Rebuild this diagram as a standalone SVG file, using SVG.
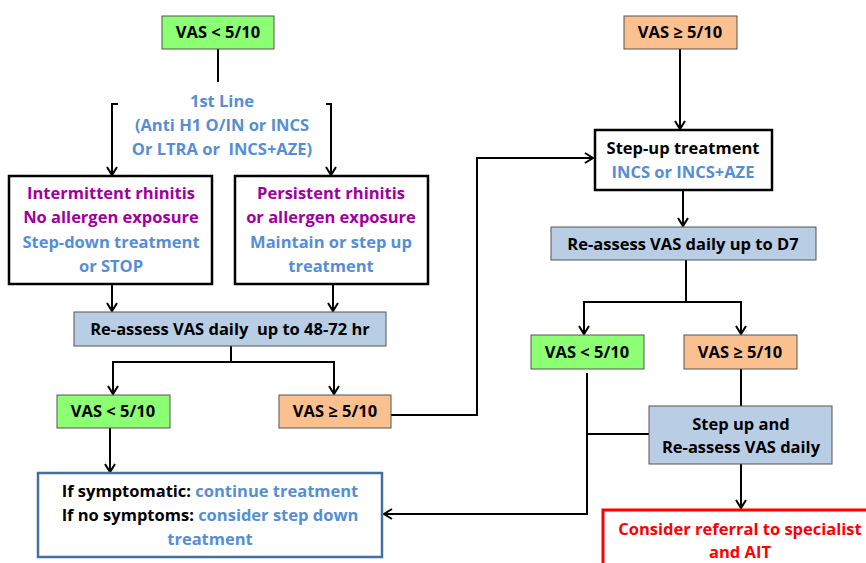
<svg xmlns="http://www.w3.org/2000/svg" width="866" height="563" viewBox="0 0 866 563">
<defs>
<marker id="arr" viewBox="0 0 12 12" refX="10" refY="6" markerWidth="12" markerHeight="12" markerUnits="userSpaceOnUse" orient="auto">
<path d="M2,1 L10,6 L2,11" fill="none" stroke="#000" stroke-width="2"/>
</marker>
<style>
text{font-family:"Open Sans","Liberation Sans",sans-serif;font-weight:bold;font-size:16.5px;text-anchor:middle;white-space:pre}
.k{fill:#000}.b{fill:#558ED5}.p{fill:#A000A0}.r{fill:#FF0000}
.green{fill:#8CFF72;stroke:#555;stroke-width:1}
.orange{fill:#FAC090;stroke:#555;stroke-width:1}
.gray{fill:#B9CDE5;stroke:#555;stroke-width:1}
.white{fill:#fff;stroke:#000;stroke-width:2.5}
.c{fill:none;stroke:#000;stroke-width:2}
</style>
</defs>
<rect width="866" height="563" fill="#fff"/>
<g id="connectors">
<path class="c" d="M218,49 V82"/>
<path class="c" d="M118,104 H112 V175" marker-end="url(#arr)"/>
<path class="c" d="M326,104 H331 V175" marker-end="url(#arr)"/>
<path class="c" d="M112,284 V311" marker-end="url(#arr)"/>
<path class="c" d="M333,284 V311" marker-end="url(#arr)"/>
<path class="c" d="M231,346 V362"/>
<path class="c" d="M231,362 H113 V394" marker-end="url(#arr)"/>
<path class="c" d="M231,362 H334 V394" marker-end="url(#arr)"/>
<path class="c" d="M110,428 V472" marker-end="url(#arr)"/>
<path class="c" d="M391,415 H477 V158 H593" marker-end="url(#arr)"/>
<path class="c" d="M680,49 V129" marker-end="url(#arr)"/>
<path class="c" d="M683,190 V226" marker-end="url(#arr)"/>
<path class="c" d="M686,260 V302"/>
<path class="c" d="M686,302 H584 V334" marker-end="url(#arr)"/>
<path class="c" d="M686,302 H741 V334" marker-end="url(#arr)"/>
<path class="c" d="M741,369 V406"/>
<path class="c" d="M587,373 V514 H384" marker-end="url(#arr)"/>
<path class="c" d="M587,434 H649"/>
<path class="c" d="M741,464 V508" marker-end="url(#arr)"/>
</g>
<g id="vas-low-top">
<rect class="green" x="162" y="16" width="112" height="33"/>
<text class="k" x="218" y="38">VAS &lt; 5/10</text>
</g>
<g id="first-line">
<text class="b" x="222" y="107">1st Line</text>
<text class="b" x="222" y="131">(Anti H1 O/IN or INCS</text>
<text class="b" x="222" y="155">Or LTRA or  INCS+AZE)</text>
</g>
<g id="intermittent">
<rect class="white" x="9" y="176" width="203" height="108"/>
<text class="p" x="111" y="199">Intermittent rhinitis</text>
<text class="p" x="111" y="223">No allergen exposure</text>
<text class="b" x="111" y="248">Step-down treatment</text>
<text class="b" x="111" y="272">or STOP</text>
</g>
<g id="persistent">
<rect class="white" x="235" y="176" width="193" height="108"/>
<text class="p" x="331" y="199">Persistent rhinitis</text>
<text class="p" x="331" y="223">or allergen exposure</text>
<text class="b" x="331" y="248">Maintain or step up</text>
<text class="b" x="331" y="272">treatment</text>
</g>
<g id="reassess-48">
<rect class="gray" x="74" y="312" width="312" height="34"/>
<text class="k" x="230" y="335">Re-assess VAS daily  up to 48-72 hr</text>
</g>
<g id="vas-low-left">
<rect class="green" x="57" y="395" width="113" height="33"/>
<text class="k" x="113" y="417">VAS &lt; 5/10</text>
</g>
<g id="vas-high-left">
<rect class="orange" x="279" y="395" width="112" height="33"/>
<text class="k" x="335" y="417">VAS ≥ 5/10</text>
</g>
<g id="continue">
<rect x="38" y="473" width="344" height="84" fill="#fff" stroke="#41719C" stroke-width="2.5"/>
<text x="210" y="497"><tspan class="k">If symptomatic: </tspan><tspan class="b">continue treatment</tspan></text>
<text x="210" y="521"><tspan class="k">If no symptoms: </tspan><tspan class="b">consider step down</tspan></text>
<text class="b" x="210" y="545">treatment</text>
</g>
<g id="vas-high-top">
<rect class="orange" x="624" y="16" width="113" height="33"/>
<text class="k" x="680" y="38">VAS ≥ 5/10</text>
</g>
<g id="step-up">
<rect class="white" x="595" y="130" width="177" height="60"/>
<text class="k" x="683" y="154">Step-up treatment</text>
<text class="b" x="683" y="178">INCS or INCS+AZE</text>
</g>
<g id="reassess-d7">
<rect class="gray" x="551" y="227" width="265" height="33"/>
<text class="k" x="683" y="250">Re-assess VAS daily up to D7</text>
</g>
<g id="vas-low-right">
<rect class="green" x="531" y="335" width="113" height="34"/>
<text class="k" x="587" y="358">VAS &lt; 5/10</text>
</g>
<g id="vas-high-right">
<rect class="orange" x="684" y="335" width="113" height="34"/>
<text class="k" x="740" y="358">VAS ≥ 5/10</text>
</g>
<g id="step-up-reassess">
<rect class="gray" x="649" y="406" width="183" height="58"/>
<text class="k" x="741" y="430">Step up and</text>
<text class="k" x="741" y="453">Re-assess VAS daily</text>
</g>
<g id="referral">
<rect x="603" y="510" width="280" height="70" fill="#fff" stroke="#FF0000" stroke-width="3"/>
<text class="r" x="740" y="535">Consider referral to specialist</text>
<text class="r" x="740" y="558">and AIT</text>
</g>
</svg>
